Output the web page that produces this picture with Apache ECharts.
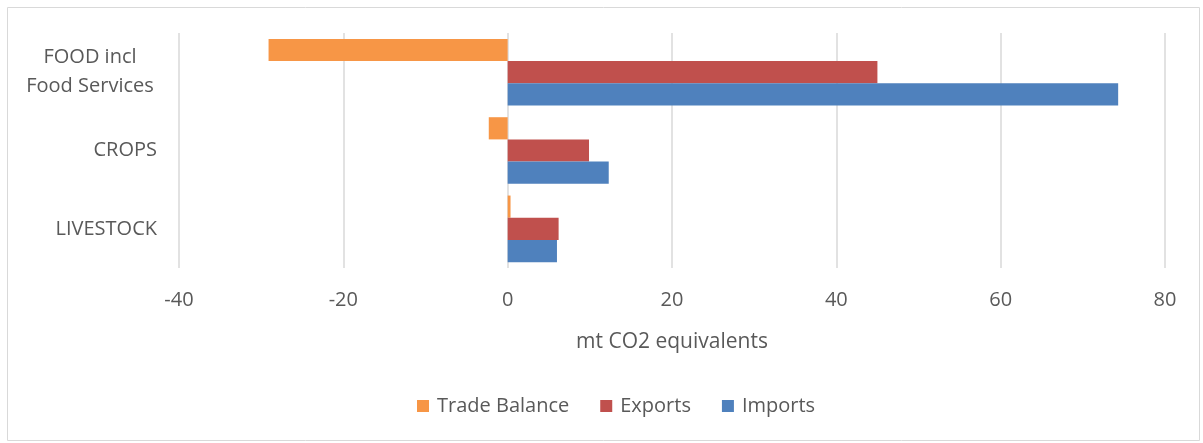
<!DOCTYPE html>
<html><head><meta charset="utf-8">
<script src="https://cdn.jsdelivr.net/npm/echarts@6/dist/echarts.min.js"></script>
<style>html,body{margin:0;padding:0;background:#fff}#c{width:1203px;height:443px}</style>
</head><body><div id="c"></div>
<script>
const categories = ['FOOD incl\nFood Services', 'CROPS', 'LIVESTOCK'];
const seriesNames = ['Trade Balance', 'Exports', 'Imports'];
const tradeBalance = [-29.1, -2.3, 0.35];
const exportsVals = [45.0, 9.9, 6.2];
const importsVals = [74.3, 12.3, 6.0];
const xTicks = [-40, -20, 0, 20, 40, 60, 80];
const colors = ['#F79646', '#C0504D', '#4F81BD'];
const FONT = 'Open Sans';
const TXT = '#595959';

const chart = echarts.init(document.getElementById('c'));
const data = [tradeBalance, exportsVals, importsVals];
chart.setOption({
  animation: false,
  textStyle: {fontFamily: FONT},
  graphic: [{type: 'rect', left: 5, top: 5, shape: {width: 1192, height: 433}, style: {fill: 'none', stroke: '#d9d9d9', lineWidth: 1}}],
  grid: {left: 179, right: 38, top: 33, bottom: 175},
  legend: {
    bottom: 22, left: 412, itemWidth: 12, itemHeight: 12, itemGap: 31,
    icon: 'rect', textStyle: {color: TXT, fontSize: 20, fontFamily: FONT, padding: [0, 0, 0, 3]},
    data: seriesNames
  },
  xAxis: {
    type: 'value', min: xTicks[0], max: xTicks[xTicks.length - 1], interval: 20,
    name: 'mt CO2 equivalents', nameLocation: 'middle', nameGap: 64,
    nameTextStyle: {color: TXT, fontSize: 21, fontFamily: FONT},
    axisLabel: {color: TXT, fontSize: 20, margin: 22, fontFamily: FONT},
    axisLine: {show: false}, axisTick: {show: false},
    splitLine: {lineStyle: {color: '#d9d9d9', width: 1.5}}
  },
  yAxis: {
    type: 'category', inverse: true, data: categories,
    axisLine: {show: false, onZero: false}, axisTick: {show: false},
    axisLabel: {
      color: TXT, fontSize: 20, margin: 22, fontFamily: FONT,
      formatter: function (v) {
        if (v.indexOf('\n') >= 0) {
          const p = v.split('\n');
          return '{a|' + p[0] + '}\n{a|' + p[1] + '}';
        }
        return v;
      },
      rich: {a: {width: 134, align: 'center', color: TXT, fontSize: 20, lineHeight: 29, fontFamily: FONT}}
    }
  },
  series: seriesNames.map((n, i) => ({
    name: n, type: 'bar', data: data[i], barGap: '0%', barCategoryGap: '15%',
    itemStyle: {color: colors[i]}
  }))
});
</script></body></html>
